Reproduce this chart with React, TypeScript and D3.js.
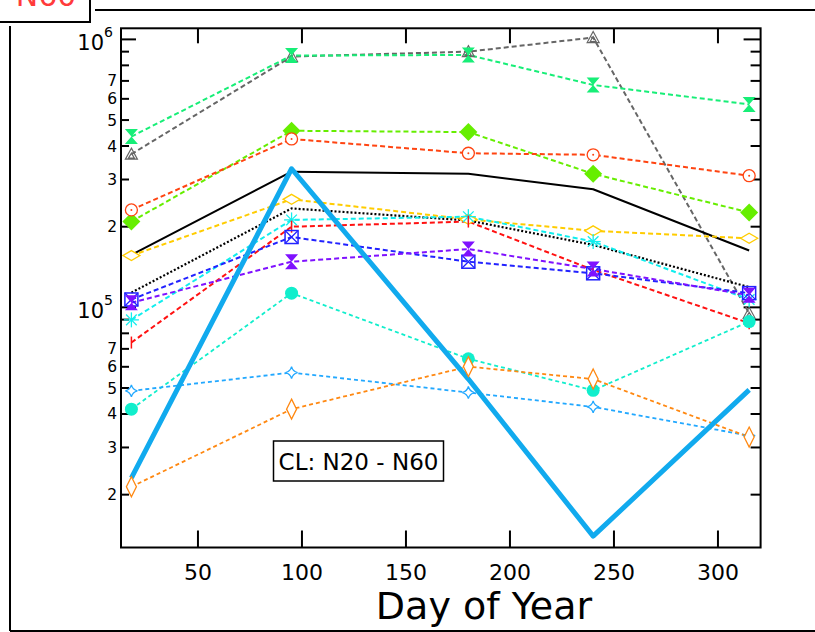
import React, { useEffect, useRef } from 'react';
import * as d3 from 'd3';

// sampling days (x) shared by every series
const days = [18, 95, 180, 240, 315];

// values
const blackSolid = [1.57e5, 3.21e5, 3.15e5, 2.76e5, 1.63e5];
const grayTri = [3.73e5, 8.63e5, 9.0e5, 1.016e6, 9.5e4];
const springHourglass = [4.34e5, 8.7e5, 8.75e5, 6.76e5, 5.72e5];
const lawnDiamond = [2.09e5, 4.56e5, 4.51e5, 3.15e5, 2.26e5];
const orangeRedCircle = [2.31e5, 4.25e5, 3.76e5, 3.71e5, 3.1e5];
const goldDiamond = [1.56e5, 2.53e5, 2.13e5, 1.93e5, 1.81e5];
const blackDotted = [1.135e5, 2.34e5, 2.11e5, 1.71e5, 1.19e5];
const cyanAsterisk = [8.98e4, 2.12e5, 2.18e5, 1.76e5, 1.07e5];
const redBar = [7.39e4, 2.0e5, 2.09e5, 1.38e5, 8.73e4];
const blueSquareX = [1.07e5, 1.83e5, 1.48e5, 1.34e5, 1.13e5];
const violetHourglass = [1.04e5, 1.48e5, 1.65e5, 1.39e5, 1.11e5];
const turquoiseDot = [4.17e4, 1.13e5, 6.43e4, 4.9e4, 8.85e4];
const skyStar = [4.88e4, 5.71e4, 4.81e4, 4.25e4, 3.32e4];
const orangeTallDiamond = [2.14e4, 4.17e4, 6.01e4, 5.4e4, 3.28e4];
const blueThick = [2.31e4, 3.29e5, 5.4e4, 1.4e4, 4.92e4];

const xTicks = [50, 100, 150, 200, 250, 300];
const minorLabels = [2, 3, 4, 5, 6, 7];
const legendText = 'CL: N20 - N60';
const panelText = 'N60';
const xTitle = 'Day of Year';

const seriesList = [
  { values: grayTri, color: '#666666', dash: '5,3', width: 2, marker: 'tri' },
  { values: springHourglass, color: '#17ee77', dash: '5,3', width: 2, marker: 'hourglass' },
  { values: lawnDiamond, color: '#66ee00', dash: '5,3', width: 2, marker: 'diamond' },
  { values: orangeRedCircle, color: '#ff4411', dash: '5,3', width: 2, marker: 'circleDot' },
  { values: blackSolid, color: '#000000', dash: null, width: 2, marker: null },
  { values: goldDiamond, color: '#ffcc00', dash: '5,3', width: 2, marker: 'wideDiamond' },
  { values: blackDotted, color: '#000000', dash: '2,2', width: 2.2, marker: null },
  { values: cyanAsterisk, color: '#11eeee', dash: '5,3', width: 2, marker: 'asterisk' },
  { values: redBar, color: '#ff1111', dash: '5,3', width: 2, marker: 'bar' },
  { values: blueSquareX, color: '#2222ff', dash: '5,3', width: 2, marker: 'squareX' },
  { values: violetHourglass, color: '#7f11ff', dash: '5,3', width: 2, marker: 'hourglass' },
  { values: turquoiseDot, color: '#11eecc', dash: '4,3', width: 1.8, marker: 'dot' },
  { values: skyStar, color: '#22a8ff', dash: '4,3', width: 1.8, marker: 'star4' },
  { values: orangeTallDiamond, color: '#ff8811', dash: '4,3', width: 1.8, marker: 'tallDiamond' },
  { values: blueThick, color: '#11aaee', dash: null, width: 5, marker: null },
];

const drawMarker = (g, type, color, cx, cy) => {
  const m = g.append('g').attr('transform', `translate(${cx},${cy})`);
  if (type === 'tri') {
    m.append('path').attr('d', 'M0,-6L6,5L-6,5Z M0,-1L3,4L-3,4Z')
      .attr('fill', 'none').attr('stroke', color).attr('stroke-width', 1.2);
  } else if (type === 'hourglass') {
    m.append('path').attr('d', 'M-6.5,-7.5L6.5,-7.5L0,0L6.5,7.5L-6.5,7.5L0,0Z').attr('fill', color);
  } else if (type === 'diamond') {
    m.append('path').attr('d', 'M0,-9L9,0L0,9L-9,0Z').attr('fill', color);
  } else if (type === 'circleDot') {
    m.append('circle').attr('r', 6).attr('fill', 'white').attr('stroke', color).attr('stroke-width', 1.3);
    m.append('circle').attr('r', 1).attr('fill', color);
  } else if (type === 'wideDiamond') {
    m.append('path').attr('d', 'M0,-5L8.5,0L0,5L-8.5,0Z')
      .attr('fill', 'white').attr('stroke', color).attr('stroke-width', 1.3);
  } else if (type === 'asterisk') {
    d3.range(8).forEach(i => {
      const a = (i * Math.PI) / 4;
      m.append('line').attr('x1', 0).attr('y1', 0)
        .attr('x2', 7.5 * Math.cos(a)).attr('y2', 7.5 * Math.sin(a))
        .attr('stroke', color).attr('stroke-width', 1.3);
    });
  } else if (type === 'bar') {
    m.append('line').attr('x1', 0).attr('x2', 0).attr('y1', -6).attr('y2', 6)
      .attr('stroke', color).attr('stroke-width', 1.5);
  } else if (type === 'squareX') {
    m.append('rect').attr('x', -6.5).attr('y', -6.5).attr('width', 13).attr('height', 13)
      .attr('fill', 'none').attr('stroke', color).attr('stroke-width', 1.5);
    m.append('path').attr('d', 'M-6.5,-6.5L6.5,6.5M6.5,-6.5L-6.5,6.5')
      .attr('stroke', color).attr('stroke-width', 1.2);
  } else if (type === 'dot') {
    m.append('circle').attr('r', 6.5).attr('fill', color);
  } else if (type === 'star4') {
    m.append('path').attr('d', 'M0,-6Q1.2,-1.2 6,0Q1.2,1.2 0,6Q-1.2,1.2 -6,0Q-1.2,-1.2 0,-6Z')
      .attr('fill', 'white').attr('stroke', color).attr('stroke-width', 1.3);
  } else if (type === 'tallDiamond') {
    m.append('path').attr('d', 'M0,-10L5,0L0,10L-5,0Z')
      .attr('fill', 'white').attr('stroke', color).attr('stroke-width', 1.3);
  }
};

const App = () => {
  const svgRef = useRef(null);

  useEffect(() => {
    const svg = d3.select(svgRef.current);
    svg.selectAll('*').remove();

    const width = 815;
    const height = 632;
    const plot = { left: 121, right: 760.6, top: 28.3, bottom: 547.5 };
    const font = '"DejaVu Sans", Verdana, sans-serif';

    const x = d3.scaleLinear().domain([13, 320.5]).range([plot.left, plot.right]);
    const y = d3.scaleLog().domain([1.27e4, 1.1e6]).range([plot.bottom, plot.top]);

    svg.append('rect').attr('width', width).attr('height', height).attr('fill', 'white');

    // outer page frame pieces
    svg.append('line').attr('x1', 95).attr('x2', width).attr('y1', 10).attr('y2', 10)
      .attr('stroke', 'black').attr('stroke-width', 2);
    svg.append('line').attr('x1', 10).attr('x2', 10).attr('y1', 26).attr('y2', 631)
      .attr('stroke', 'black').attr('stroke-width', 2);
    svg.append('line').attr('x1', 10).attr('x2', width).attr('y1', 631).attr('y2', 631)
      .attr('stroke', 'black').attr('stroke-width', 2);
    svg.append('rect').attr('x', -2).attr('y', -10).attr('width', 92).attr('height', 32)
      .attr('fill', 'white').attr('stroke', 'black').attr('stroke-width', 2);
    // panel tag sits partly above the page, as in the source figure
    svg.append('text').attr('x', 46).attr('y', 6).attr('text-anchor', 'middle')
      .attr('font-family', font).attr('font-size', 30).attr('fill', '#ff3b3b').text(panelText);

    // y ticks (log)
    const decades = [1e4, 1e5, 1e6];
    const yTickVals = [];
    decades.forEach(dec => d3.range(1, 10).forEach(k => {
      const v = k * dec;
      if (v >= y.domain()[0] && v <= y.domain()[1]) yTickVals.push({ v, k });
    }));

    const axes = svg.append('g').attr('stroke', 'black').attr('stroke-width', 2);
    yTickVals.forEach(({ v, k }) => {
      const len = k === 1 ? 15 : 8;
      axes.append('line').attr('x1', plot.left).attr('x2', plot.left + len)
        .attr('y1', y(v)).attr('y2', y(v));
      axes.append('line').attr('x1', plot.right).attr('x2', plot.right - len - 2)
        .attr('y1', y(v)).attr('y2', y(v));
    });
    xTicks.forEach(t => {
      axes.append('line').attr('x1', x(t)).attr('x2', x(t))
        .attr('y1', plot.bottom).attr('y2', plot.bottom - 17);
      axes.append('line').attr('x1', x(t)).attr('x2', x(t))
        .attr('y1', plot.top).attr('y2', plot.top + 15);
    });

    // y labels
    yTickVals.forEach(({ v, k }) => {
      if (k === 1) {
        const t = svg.append('text').attr('x', 113).attr('y', y(v) + 11)
          .attr('text-anchor', 'end').attr('font-family', font).attr('font-size', 21);
        t.append('tspan').text('10');
        t.append('tspan').attr('dy', -13).attr('font-size', 14).text(String(Math.round(Math.log10(v))));
      } else if (minorLabels.includes(k)) {
        svg.append('text').attr('x', 117).attr('y', y(v) + 5.5)
          .attr('text-anchor', 'end').attr('font-family', font).attr('font-size', 15.5)
          .text(String(k));
      }
    });

    // x labels
    xTicks.forEach(t => {
      svg.append('text').attr('x', x(t)).attr('y', 580).attr('text-anchor', 'middle')
        .attr('font-family', font).attr('font-size', 22).text(String(t));
    });
    svg.append('text').attr('x', 484).attr('y', 619).attr('text-anchor', 'middle')
      .attr('font-family', font).attr('font-size', 38).text(xTitle);

    // series lines
    const line = d3.line().x((d, i) => x(days[i])).y(d => y(d));
    const lines = svg.append('g');
    seriesList.forEach(s => {
      lines.append('path').datum(s.values).attr('d', line)
        .attr('fill', 'none').attr('stroke', s.color).attr('stroke-width', s.width)
        .attr('stroke-dasharray', s.dash).attr('stroke-linejoin', 'round');
    });

    // markers
    const marks = svg.append('g');
    seriesList.forEach(s => {
      if (!s.marker) return;
      s.values.forEach((v, i) => drawMarker(marks, s.marker, s.color, x(days[i]), y(v)));
    });

    // plot frame
    svg.append('rect').attr('x', plot.left).attr('y', plot.top)
      .attr('width', plot.right - plot.left).attr('height', plot.bottom - plot.top)
      .attr('fill', 'none').attr('stroke', 'black').attr('stroke-width', 2);

    // legend box
    svg.append('rect').attr('x', 273.5).attr('y', 441).attr('width', 170).attr('height', 40)
      .attr('fill', 'white').attr('stroke', 'black').attr('stroke-width', 1.5);
    svg.append('text').attr('x', 358.5).attr('y', 469.5).attr('text-anchor', 'middle')
      .attr('font-family', font).attr('font-size', 23).text(legendText);
  }, []);

  return (
    <svg ref={svgRef} width={815} height={632} style={{ position: 'absolute', left: 0, top: 0 }}></svg>
  );
};

export default App;
